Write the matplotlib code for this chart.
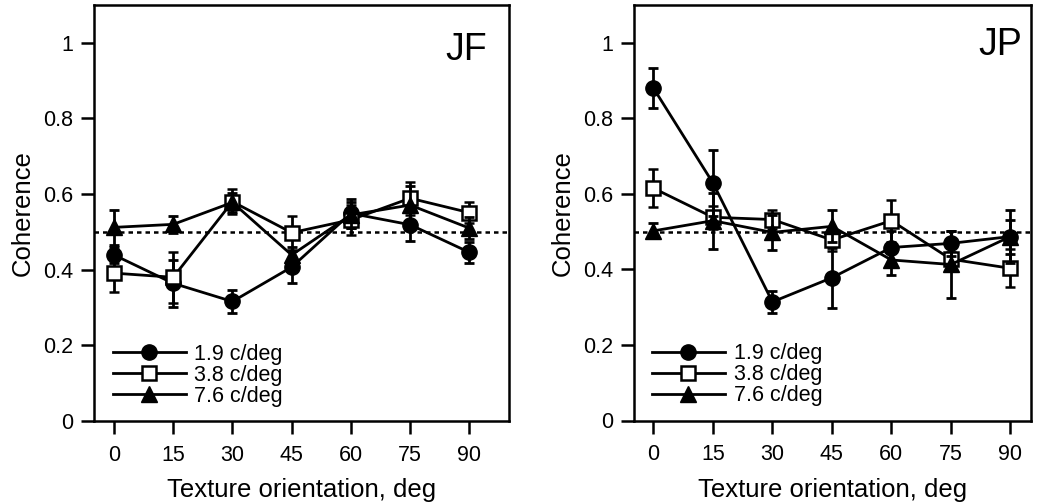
import matplotlib
matplotlib.use("Agg")
import matplotlib.pyplot as plt
import numpy as np

plt.rcParams['font.family'] = ['Liberation Sans', 'DejaVu Sans']

orientations = [0, 15, 30, 45, 60, 75, 90]
series_labels = ["1.9 c/deg", "3.8 c/deg", "7.6 c/deg"]

# Subject JF
jf_19 = [0.439, 0.364, 0.316, 0.407, 0.549, 0.519, 0.446]
jf_19_err = [0.02, 0.063, 0.03, 0.043, 0.038, 0.042, 0.027]
jf_38 = [0.391, 0.380, 0.580, 0.498, 0.532, 0.589, 0.551]
jf_38_err = [0.049, 0.067, 0.033, 0.045, 0.04, 0.044, 0.027]
jf_76 = [0.512, 0.520, 0.578, 0.439, 0.545, 0.571, 0.510]
jf_76_err = [0.046, 0.023, 0.025, 0.02, 0.035, 0.05, 0.03]

# Subject JP
jp_19 = [0.880, 0.629, 0.314, 0.378, 0.458, 0.469, 0.487]
jp_19_err = [0.052, 0.088, 0.03, 0.08, 0.045, 0.033, 0.045]
jp_38 = [0.615, 0.538, 0.532, 0.478, 0.529, 0.427, 0.403]
jp_38_err = [0.05, 0.031, 0.024, 0.03, 0.056, 0.02, 0.05]
jp_76 = [0.502, 0.529, 0.498, 0.514, 0.425, 0.413, 0.487]
jp_76_err = [0.02, 0.074, 0.047, 0.042, 0.04, 0.09, 0.07]

panel_titles = ["JF", "JP"]
yticks = [0, 0.2, 0.4, 0.6, 0.8, 1.0]
ytick_labels = ["0", "0.2", "0.4", "0.6", "0.8", "1"]
chance = 0.5

fig = plt.figure(figsize=(10.37, 5.04), dpi=100)
ax1 = fig.add_axes([94/1037, 1-421/504, (509-94)/1037, (421-5)/504])
ax2 = fig.add_axes([634/1037, 1-420.5/504, (1031-634)/1037, 415.5/504])

styles = [
    dict(marker='o', markersize=11, markerfacecolor='black', markeredgecolor='black'),
    dict(marker='s', markersize=9.5, markerfacecolor='white', markeredgecolor='black', markeredgewidth=1.8),
    dict(marker='^', markersize=11, markerfacecolor='black', markeredgecolor='black'),
]

panels = [
    (ax1, [jf_19, jf_38, jf_76], [jf_19_err, jf_38_err, jf_76_err], (-5.07, 100.05), [3, 4, 5], (0.947, 0.935)),
    (ax2, [jp_19, jp_38, jp_76], [jp_19_err, jp_38_err, jp_76_err], (-4.9, 95.2), [5, 3, 4], (0.977, 0.947)),
]

for i, (ax, vals, errs, xlim, zords, tpos) in enumerate(panels):
    ax.axhline(chance, color='black', lw=1.8, linestyle=(0, (1.8, 1.6)), zorder=1)
    handles = []
    for v, e, st, lab, z in zip(vals, errs, styles, series_labels, zords):
        h = ax.errorbar(orientations, v, yerr=e, color='black', lw=2.0,
                        elinewidth=2.0, capsize=3.8, capthick=2.0, label=lab,
                        zorder=z, **st)
        handles.append(h[0])
    ax.set_xlim(*xlim)
    ax.set_ylim(0, 1.1)
    ax.set_xticks(orientations)
    ax.set_yticks(yticks)
    ax.set_yticklabels(ytick_labels)
    for sp in ax.spines.values():
        sp.set_linewidth(1.8)
    ax.tick_params(direction='out', length=9.5, width=1.8, labelsize=15.5)
    ax.tick_params(axis='x', pad=7.5)
    ax.tick_params(axis='y', pad=5.5)
    ax.set_xlabel("Texture orientation, deg", fontsize=18.5, labelpad=9)
    ax.set_ylabel("Coherence", fontsize=18.5, labelpad=6)
    ax.text(tpos[0], tpos[1], panel_titles[i], transform=ax.transAxes,
            ha='right', va='top', fontsize=27)
    ax.legend(handles=handles, labels=series_labels, loc='center left',
              bbox_to_anchor=(0.045, 0.110), frameon=False, fontsize=15.5,
              handlelength=3.4, handletextpad=0.4, labelspacing=0.0,
              borderpad=0, borderaxespad=0)

fig.savefig("out.png", dpi=100)
